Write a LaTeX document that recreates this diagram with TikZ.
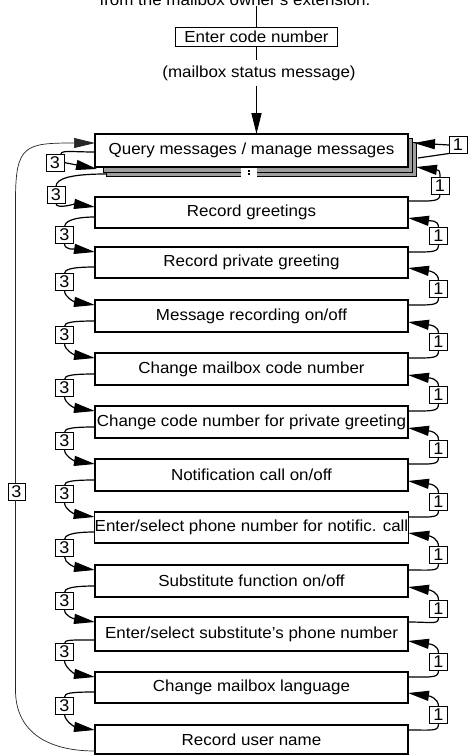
\documentclass[tikz,border=0pt]{standalone}
\usepackage{fontspec}
\setmainfont{Liberation Sans}[FakeStretch=1.06]
\usetikzlibrary{arrows.meta,calc}
\begin{document}
\begin{tikzpicture}[x=1pt,y=-1pt,
 txt/.style={font=\fontsize{16}{19}\selectfont},
 box/.style={draw, line width=1.6pt, fill=white, minimum width=313pt, inner sep=0pt, outer sep=0pt, font=\fontsize{16}{19}\selectfont},
 lbl/.style={draw, line width=0.8pt, fill=white, minimum width=18pt, minimum height=17pt, inner sep=0pt, outer sep=0pt, font=\fontsize{17}{19}\selectfont},
 conn/.style={line width=1.2pt},
 arr/.style={-{Triangle[length=21pt,width=10pt]}},
 shad/.style={draw, line width=0.8pt, fill=black!38, inner sep=0pt, outer sep=0pt},
 loopline/.style={line width=0.7pt, draw=black!85}]

\fill[white] (0,0) rectangle (468,755);
\useasboundingbox (0,0) rectangle (468,755);

% top
\node[txt, anchor=base, inner sep=1pt] (top) at (235,5) {from the mailbox owner’s extension.};
\node[draw, line width=0.8pt, minimum width=162pt, minimum height=19pt, inner sep=0pt, outer sep=0pt, txt] (ecn) at (256.5,36.5) {Enter code number};
\node[txt, inner sep=5pt] (status) at (259,73) {(mailbox status message)};

% query box with shadows
\node[shad, minimum width=310pt, minimum height=34pt] (shB) at (261,159) {};
\node[shad, minimum width=309pt, minimum height=34pt] (shA) at (257.5,155) {};
\fill[white] (241,167.5) rectangle (257,177.5);
\fill (248,169.5) rectangle (250,171.5);
\fill (248,173) rectangle (250,175);
\node[box, minimum height=33pt] (q) at (251.5,150.5) {Query messages / manage messages};

\draw[line width=1.6pt] (top.south -| ecn.north) -- (ecn.north);
\draw[line width=1.6pt] (ecn.south) -- (ecn.south |- status.north);
\draw[line width=1.6pt, arr] (ecn.south |- status.south) -- (ecn.south |- q.north);

% boxes
\node[box, minimum height=31pt] (rg)  at (251.5,212.5) {Record greetings};
\node[box, minimum height=31pt] (rpg) at (251.5,262.5) {Record private greeting};
\node[box, minimum height=32pt] (mr)  at (251.5,316)   {Message recording on/off};
\node[box, minimum height=32pt] (cmc) at (251.5,369)   {Change mailbox code number};
\node[box, minimum height=32pt] (ccp) at (251.5,422)   {Change code number for private greeting};
\node[box, minimum height=32pt] (nc)  at (251.5,475)   {Notification call on/off};
\node[box, minimum height=31pt] (esp) at (251.5,527.5) {Enter/select phone number for notific. call};
\node[box, minimum height=32pt] (sf)  at (251.5,581)   {Substitute function on/off};
\node[box, minimum height=34pt] (ess) at (251.5,634)   {Enter/select substitute’s phone number};
\node[box, minimum height=31pt] (cml) at (251.5,687.5) {Change mailbox language};
\node[box, minimum height=29pt] (run) at (251.5,739.5) {Record user name};

% query self loops
\node[lbl] (q3a) at (55,162.5) {3};
\draw[conn] ($(q.south west)+(0,-15)$) .. controls +(-22,0) and +(0,-4) .. ($(q3a.north east)+(-3,0)$);
\draw[conn,arr] (q3a.east) -- ($(q.south west)+(2,2)$);
\node[lbl] (q3b) at (56,195) {3};
\draw[conn] ($(shB.south west)+(0,-2)$) .. controls +(-35,0) and +(0,-8) .. (q3b.north);
\draw[conn,arr] (q3b.south) .. controls +(0,6) and +(-20,-3) .. ($(rg.north west)+(0,10)$);

\node[lbl] (q1a) at (458,145) {1};
\draw[conn] ($(q.north east)+(10,24)$) -- (q1a.south west);
\draw[conn,arr] (q1a.west) -- ($(q.north east)+(6,9)$);
\node[lbl] (q1b) at (440,185.5) {1};
\draw[conn] ($(rg.north east)+(0,4)$) .. controls +(25,0) and +(0,8) .. (q1b.south);
\draw[conn,arr] (q1b.north) .. controls +(0,-8) and +(22,3) .. ($(shB.south east)+(0,-9)$);

% regular connectors
\foreach \p/\n/\ly/\ry [count=\i] in {rg/rpg/235/236, rpg/mr/282/289, mr/cmc/335/342, cmc/ccp/388/395, ccp/nc/441/448.5, nc/esp/494/501.5, esp/sf/548/555, sf/ess/601/608.5, ess/cml/652/661.5, cml/run/705.5/715}{
 \node[lbl] (L\i) at (64.5,\ly) {3};
 \node[lbl] (R\i) at (438.5,\ry) {1};
 \draw[conn] ($(\p.south west)+(0,-11)$) .. controls +(-24,0) and +(0,-4) .. (L\i.north);
 \draw[conn,arr] (L\i.south) .. controls +(0,7) and +(-20,-3) .. ($(\n.north west)+(0,5)$);
 \draw[conn] ($(\n.north east)+(0,5)$) .. controls +(26,0) and +(0,8) .. (R\i.south);
 \draw[conn,arr] (R\i.north) .. controls +(0,-8) and +(22,3) .. ($(\p.south east)+(0,-10)$);
}

% big loop
\node[lbl, minimum width=17pt] (big3) at (16.5,491.5) {3};
\coordinate (bl1) at (15.5,690);
\coordinate (bl2) at (15.5,200);
\draw[loopline] ($(run.south west)+(0,-3)$) .. controls +(-50,0) and +(0,40) .. (bl1) -- (bl1 |- big3.south);
\draw[loopline, arr] (bl2 |- big3.north) -- (bl2) .. controls +(0,-55) and +(-70,0) .. ($(q.north west)+(0,9)$);
\end{tikzpicture}
\end{document}
